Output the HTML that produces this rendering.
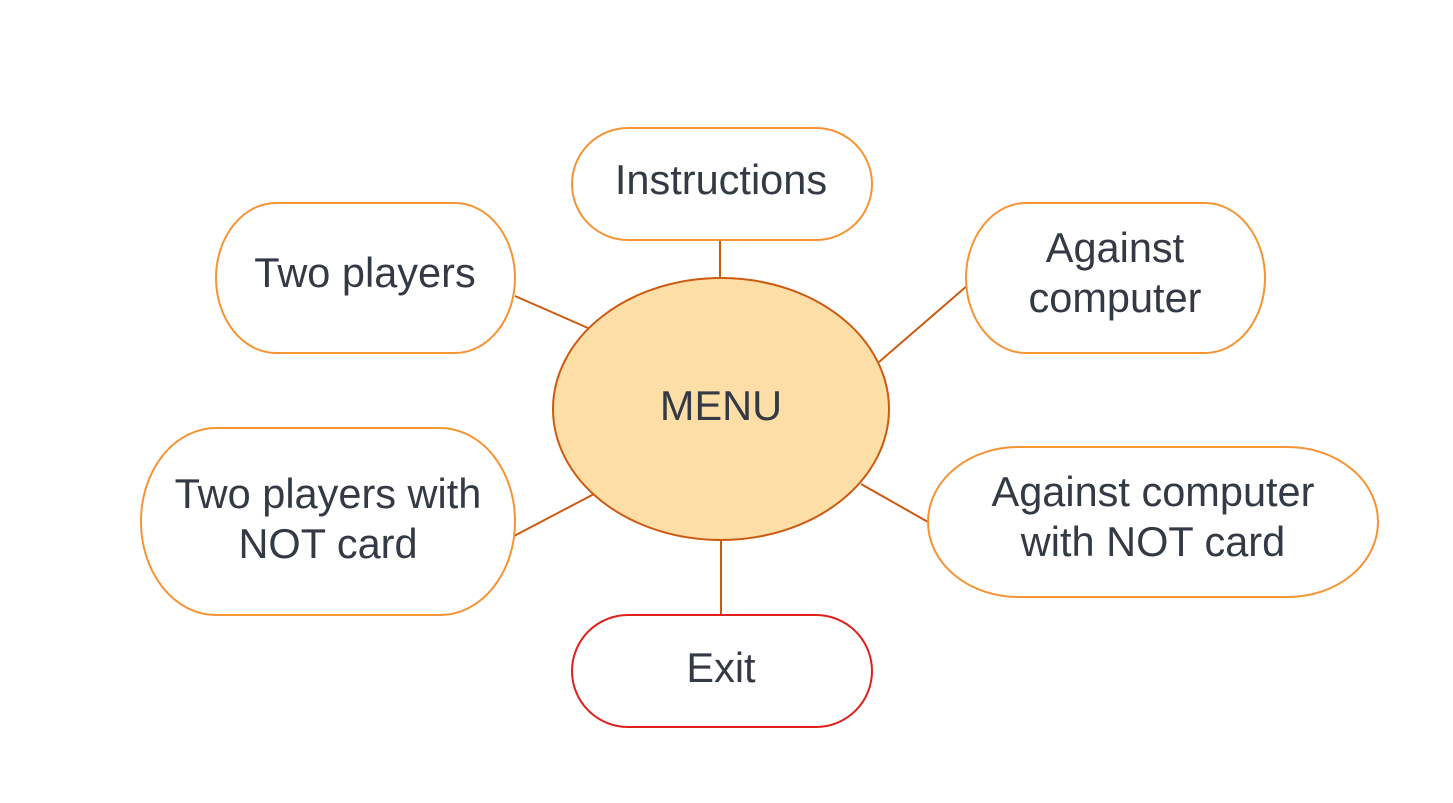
<!DOCTYPE html>
<html><head><meta charset="utf-8"><style>
html,body{margin:0;padding:0;background:#fff;}
svg{display:block;}
text{font-family:"Liberation Sans",sans-serif;font-size:41.5px;fill:#343a45;text-anchor:middle;}
</style></head><body>
<svg width="1453" height="803" viewBox="0 0 1453 803">
<g stroke="#cc5a10" stroke-width="2" fill="none">
<line x1="720" y1="240" x2="720" y2="278"/>
<line x1="515" y1="296" x2="588" y2="328"/>
<line x1="968" y1="285" x2="879" y2="362"/>
<line x1="514" y1="536" x2="594" y2="494"/>
<line x1="861" y1="484" x2="928" y2="522"/>
<line x1="721" y1="541" x2="721" y2="615"/>
</g>
<ellipse cx="721" cy="409" rx="168" ry="131" fill="#fddea6" stroke="#cc5a10" stroke-width="2"/>
<g fill="#fff" stroke="#f59435" stroke-width="2">
<rect x="572" y="128" width="300" height="112" rx="56" ry="56"/>
<rect x="216" y="203" width="299" height="150" rx="60" ry="75"/>
<rect x="966" y="203" width="299" height="150" rx="60" ry="75"/>
<rect x="141" y="428" width="374" height="187" rx="75" ry="93"/>
<rect x="928" y="447" width="450" height="150" rx="90" ry="75"/>
</g>
<rect x="572" y="615" width="300" height="112" rx="56" ry="56" fill="#fff" stroke="#e0201c" stroke-width="2"/>
<text x="721" y="194">Instructions</text>
<text x="365" y="287">Two players</text>
<text x="1115" y="262">Against</text>
<text x="1115" y="312">computer</text>
<text x="721" y="420">MENU</text>
<text x="328" y="508">Two players with</text>
<text x="328" y="558">NOT card</text>
<text x="1153" y="506">Against computer</text>
<text x="1153" y="556">with NOT card</text>
<text x="721" y="682">Exit</text>
</svg>
</body></html>
